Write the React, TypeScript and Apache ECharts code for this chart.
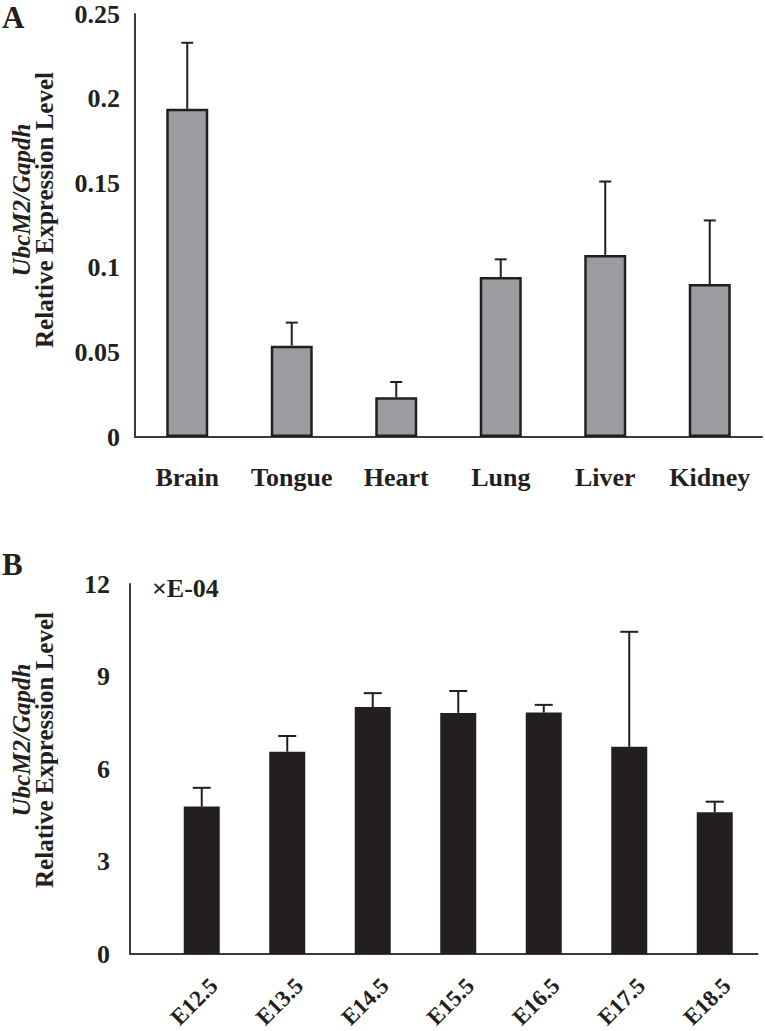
import React, { useEffect, useRef } from "react";
import * as echarts from "echarts";

const tissues = ["Brain", "Tongue", "Heart", "Lung", "Liver", "Kidney"];
const tissueMeans = [0.194, 0.054, 0.0235, 0.0946, 0.1076, 0.0904];
const tissueErrTop = [0.233, 0.0676, 0.0325, 0.105, 0.151, 0.128];
const tissueTicks = [0, 0.05, 0.1, 0.15, 0.2, 0.25];

const stages = ["E12.5", "E13.5", "E14.5", "E15.5", "E16.5", "E17.5", "E18.5"];
const stageMeans = [4.78, 6.56, 8.01, 7.82, 7.83, 6.72, 4.6];
const stageErrTop = [5.39, 7.07, 8.46, 8.53, 8.08, 10.45, 4.94];
const stageTicks = [0, 3, 6, 9, 12];

const FONT = "'Liberation Serif', 'Times New Roman', serif";
const INK = "#231f20";
const AXIS = "#3a3a3a";

function errorSeries(xIndex: number, means: number[], tops: number[], capHalf: number) {
  return {
    type: "custom",
    xAxisIndex: xIndex,
    yAxisIndex: xIndex,
    z: 1,
    silent: true,
    data: means.map((m, i) => [i, m, tops[i]]),
    encode: { x: 0, y: [1, 2] },
    renderItem: (_params: any, api: any) => {
      const base = api.coord([api.value(0), api.value(1)]);
      const top = api.coord([api.value(0), api.value(2)]);
      const style = { stroke: INK, lineWidth: 2 };
      return {
        type: "group",
        children: [
          { type: "line", shape: { x1: base[0], y1: base[1], x2: top[0], y2: top[1] }, style },
          { type: "line", shape: { x1: top[0] - capHalf, y1: top[1], x2: top[0] + capHalf, y2: top[1] }, style },
        ],
      };
    },
  };
}

function yTitle(cx1: number, cy1: number, cx2: number, cy2: number) {
  return [
    {
      type: "text", x: cx1, y: cy1, rotation: Math.PI / 2,
      style: { text: "UbcM2/Gapdh", font: `italic bold 25px ${FONT}`, fill: INK, align: "center", verticalAlign: "middle" },
    },
    {
      type: "text", x: cx2, y: cy2, rotation: Math.PI / 2,
      style: { text: "Relative Expression Level", font: `bold 25px ${FONT}`, fill: INK, align: "center", verticalAlign: "middle" },
    },
  ];
}

export default function App() {
  const ref = useRef<HTMLDivElement>(null);
  useEffect(() => {
    if (!ref.current) return;
    const chart = echarts.init(ref.current, null, { renderer: "svg" });
    const tickLabel = { fontFamily: FONT, fontWeight: "bold", fontSize: 26, color: INK };
    chart.setOption({
      animation: false,
      backgroundColor: "#ffffff",
      grid: [
        { left: 135, top: 14, width: 627, height: 423, outerBoundsMode: "none", containLabel: false },
        { left: 159, top: 584, width: 598.5, height: 370, outerBoundsMode: "none", containLabel: false },
      ],
      xAxis: [
        {
          type: "category",
          gridIndex: 0,
          data: tissues,
          axisLine: { lineStyle: { color: AXIS, width: 2 } },
          axisTick: { show: false },
          axisLabel: { ...tickLabel, interval: 0, margin: 27 },
        },
        {
          type: "category",
          gridIndex: 1,
          data: stages,
          axisLine: { lineStyle: { color: AXIS, width: 2 } },
          axisTick: { show: false },
          axisLabel: { show: false },
        },
      ],
      yAxis: [
        {
          type: "value",
          gridIndex: 0,
          min: tissueTicks[0],
          max: tissueTicks[tissueTicks.length - 1],
          interval: 0.05,
          axisLine: { show: true, lineStyle: { color: AXIS, width: 2 } },
          axisTick: { show: false },
          splitLine: { show: false },
          axisLabel: { ...tickLabel, margin: 15, padding: [7, 0, 0, 0], formatter: (v: number) => String(+v.toFixed(2)) },
        },
        {
          type: "value",
          gridIndex: 1,
          min: stageTicks[0],
          max: stageTicks[stageTicks.length - 1],
          interval: 3,
          offset: 29,
          axisLine: { show: true, lineStyle: { color: AXIS, width: 2 } },
          axisTick: { show: false },
          splitLine: { show: false },
          axisLabel: { ...tickLabel, margin: 20, padding: [5, 0, 0, 0] },
        },
      ],
      series: [
        {
          type: "bar",
          xAxisIndex: 0,
          yAxisIndex: 0,
          data: tissueMeans,
          barWidth: 42,
          z: 2,
          itemStyle: { color: "#9b9ca0", borderColor: INK, borderWidth: 2.5 },
        },
        errorSeries(0, tissueMeans, tissueErrTop, 6),
        {
          type: "bar",
          xAxisIndex: 1,
          yAxisIndex: 1,
          data: stageMeans,
          barWidth: 36,
          z: 2,
          itemStyle: { color: INK },
        },
        errorSeries(1, stageMeans, stageErrTop, 9),
      ],
    });

    // rotated category labels for panel B, anchored from the axis' own pixel positions
    const stageLabels = stages.map((s, i) => {
      const px = chart.convertToPixel({ xAxisIndex: 1 }, i) as number;
      const py = chart.convertToPixel({ yAxisIndex: 1 }, 0) as number;
      return {
        type: "text",
        x: px + 12,
        y: py + 28,
        rotation: Math.PI / 4,
        style: { text: s, font: `bold 23px ${FONT}`, fill: INK, align: "right", verticalAlign: "middle" },
      };
    });

    chart.setOption({
      graphic: [
        { type: "text", x: 2, y: 17, style: { text: "A", font: `bold 31px ${FONT}`, fill: INK, verticalAlign: "middle" } },
        { type: "text", x: 2, y: 564, style: { text: "B", font: `bold 31px ${FONT}`, fill: INK, verticalAlign: "middle" } },
        ...yTitle(21, 200, 44, 210),
        ...yTitle(21, 740, 44, 750),
        {
          type: "text", x: 152, y: 588,
          style: { text: "×E-04", font: `bold 26px ${FONT}`, fill: INK, verticalAlign: "middle" },
        },
        {
          type: "line", shape: { x1: 130, y1: 954, x2: 160, y2: 954 },
          style: { stroke: AXIS, lineWidth: 2 },
        },
        ...stageLabels,
      ],
    });
    return () => chart.dispose();
  }, []);
  return (
    <div
      ref={ref}
      style={{ position: "absolute", left: 0, top: 0, width: 765, height: 1031, background: "#fff" }}
    />
  );
}
